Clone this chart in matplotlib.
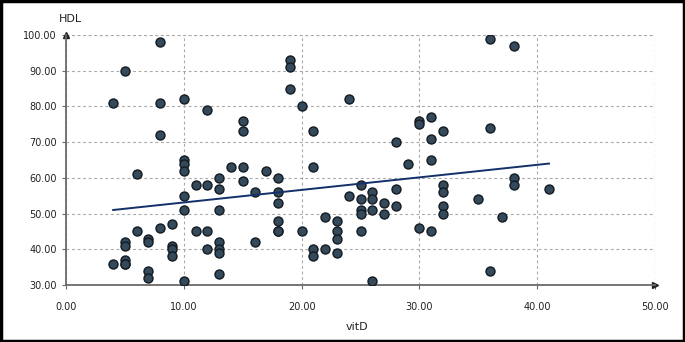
import numpy as np
import matplotlib
matplotlib.use("Agg")
import matplotlib.pyplot as plt
from matplotlib.patches import Rectangle

# vitamin D vs HDL
vitd = [4, 4,
        5, 5, 5, 5, 5, 5,
        6, 6,
        7, 7, 7, 7,
        8, 8, 8, 8,
        9, 9, 9, 9,
        10, 10, 10, 10, 10, 10, 10,
        11, 11,
        12, 12, 12, 12,
        13, 13, 13, 13, 13, 13, 13,
        14,
        15, 15, 15, 15,
        16, 16,
        17,
        18, 18, 18, 18, 18, 18,
        19, 19, 19,
        20, 20,
        21, 21, 21, 21,
        22, 22,
        23, 23, 23, 23,
        24, 24,
        25, 25, 25, 25, 25,
        26, 26, 26, 26,
        27, 27,
        28, 28, 28,
        29,
        30, 30, 30,
        31, 31, 31, 31,
        32, 32, 32, 32, 32,
        35,
        36, 36, 36,
        37,
        38, 38, 38,
        41]
hdl = [81, 36,
       90, 42, 41, 37, 36, 36,
       61, 45,
       43, 42, 34, 32,
       98, 81, 72, 46,
       47, 41, 40, 38,
       82, 65, 64, 62, 55, 51, 31,
       58, 45,
       79, 58, 45, 40,
       60, 57, 51, 42, 40, 39, 33,
       63,
       76, 73, 63, 59,
       56, 42,
       62,
       60, 56, 53, 48, 45, 45,
       93, 91, 85,
       80, 45,
       73, 63, 40, 38,
       49, 40,
       48, 45, 43, 39,
       82, 55,
       58, 54, 51, 50, 45,
       56, 54, 51, 31,
       53, 50,
       70, 57, 52,
       64,
       76, 75, 46,
       77, 71, 65, 45,
       73, 58, 56, 52, 50,
       54,
       99, 74, 34,
       49,
       97, 60, 58,
       57]

# fitted line as drawn in the picture
trend_x = [4, 41]
trend_y = [51, 64]

x_ticks = [0, 10, 20, 30, 40, 50]
y_ticks = [30, 40, 50, 60, 70, 80, 90, 100]

grid_style = dict(color="#a8a8a8", ls=(0, (2.5, 2.5)), lw=0.8)

fig = plt.figure(figsize=(6.85, 3.42), dpi=100)
ax = fig.add_axes([0.0964, 0.1667, 0.8599, 0.731])

ax.scatter(vitd, hdl, s=42, color="#34495a", edgecolors="#121a22",
           linewidths=1.0, zorder=3)
ax.plot(trend_x, trend_y, color="#13306a", lw=1.4, zorder=4)

ax.set_xlim(0, 50)
ax.set_ylim(30, 100)
ax.set_xticks(x_ticks)
ax.set_yticks(y_ticks)
ax.set_xticklabels([f"{v:.2f}" for v in x_ticks])
ax.set_yticklabels([f"{v:.2f}" for v in y_ticks])
ax.tick_params(labelsize=7, colors="#222222", length=3, width=0.8)
ax.tick_params(axis="both", color="#6a6a6a")
ax.tick_params(axis="x", pad=9)

ax.grid(True, **grid_style)
ax.set_axisbelow(True)
for s in ["top", "right"]:
    ax.spines[s].set_visible(False)
for s in ["left", "bottom"]:
    ax.spines[s].set_color("#6a6a6a")
    ax.spines[s].set_linewidth(1.3)

# dashed closing lines at the right and top edges
ax.axvline(50, **grid_style)
ax.axhline(100, **grid_style)

# arrow heads on the axes
ax.plot(1, 0, ">", color="#222222", ms=4, transform=ax.transAxes, clip_on=False)
ax.plot(0, 1, "^", color="#222222", ms=4, transform=ax.transAxes, clip_on=False)

fig.text(0.103, 0.945, "HDL", fontsize=8, color="#222222", ha="center", va="center")
fig.text(0.521, 0.045, "vitD", fontsize=8, color="#222222", ha="center", va="center")

# black frame round the whole picture
fig.patches.append(Rectangle((0.002, 0.004), 0.996, 0.992, transform=fig.transFigure,
                             fill=False, edgecolor="black", lw=2.5))

fig.savefig("out.png", dpi=100)
